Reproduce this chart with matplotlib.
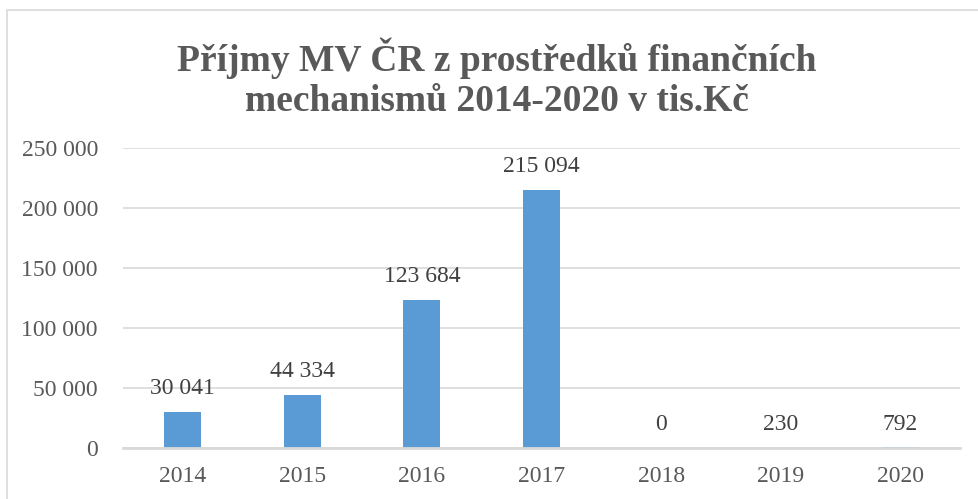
import matplotlib
matplotlib.use("Agg")
import matplotlib.pyplot as plt
from matplotlib.patches import Rectangle
from matplotlib.ticker import FuncFormatter, MultipleLocator

years = ["2014", "2015", "2016", "2017", "2018", "2019", "2020"]
values = [30041, 44334, 123684, 215094, 0, 230, 792]
title = "Příjmy MV ČR z prostředků finančních\nmechanismů 2014-2020 v tis.Kč"

plt.rcParams['font.family'] = ['Liberation Serif', 'DejaVu Serif']

W, H = 979, 499
fig = plt.figure(figsize=(W / 100, H / 100), dpi=100)
ax = fig.add_axes([123 / W, 1 - 448 / H, (960 - 123) / W, (448 - 148) / H])

x = list(range(len(years)))
bars = ax.bar(x, values, width=0.31, color="#5B9BD5", zorder=3)
ax.set_xlim(-0.5, len(years) - 0.5)
ax.set_ylim(0, 250000)
ax.yaxis.set_major_locator(MultipleLocator(50000))

def fmt(v, pos=None):
    return f"{int(round(v)):,}".replace(",", " ")

ax.yaxis.set_major_formatter(FuncFormatter(fmt))
ax.set_xticks(x)
ax.set_xticklabels(years)
ax.tick_params(axis="both", length=0, labelsize=17, colors="#595959")
ax.tick_params(axis="y", pad=18)
ax.tick_params(axis="x", pad=13)
ax.grid(axis="y", color="#D9D9D9", linewidth=1.2, zorder=0)
for s in ["top", "right", "left"]:
    ax.spines[s].set_visible(False)
ax.spines["bottom"].set_color("#D9D9D9")
ax.spines["bottom"].set_linewidth(2)
ax.spines["bottom"].set_zorder(4)

for xi, v in zip(x, values):
    ax.annotate(fmt(v), (xi, v), xytext=(0, 9), textcoords="offset points",
                ha="center", va="bottom", fontsize=17, color="#404040")

fig.text(497 / W, 1 - 78 / H, title, ha="center", va="center",
         fontsize=27, fontweight="bold", color="#595959", linespacing=1.2)

fig.patches.append(Rectangle((7 / W, -0.1), 1.2, 1 - 10 / H + 0.1,
                             transform=fig.transFigure, fill=False,
                             edgecolor="#D9D9D9", linewidth=1.2))

fig.savefig("out.png", dpi=100)
